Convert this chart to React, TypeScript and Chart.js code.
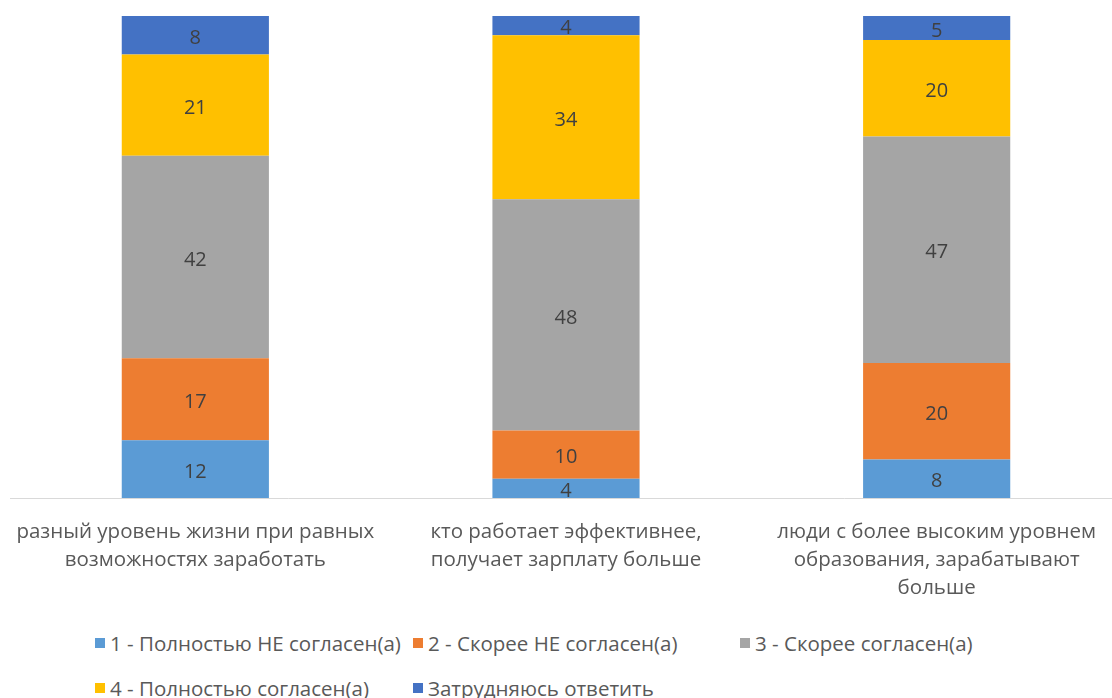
import React, { useEffect, useRef } from "react";
import { Chart, registerables } from "chart.js";

Chart.register(...registerables);

const categories: string[][] = [
  ["разный уровень жизни при равных", "возможностях заработать"],
  ["кто работает эффективнее,", "получает зарплату больше"],
  ["люди с более высоким уровнем", "образования, зарабатывают", "больше"],
];

const seriesNames = [
  "1 - Полностью НЕ согласен(а)",
  "2 - Скорее НЕ согласен(а)",
  "3 - Скорее согласен(а)",
  "4 - Полностью согласен(а)",
  "Затрудняюсь ответить",
];

const fullyDisagree = [12, 4, 8];
const ratherDisagree = [17, 10, 20];
const ratherAgree = [42, 48, 47];
const fullyAgree = [21, 34, 20];
const hardToSay = [8, 4, 5];

const seriesValues = [fullyDisagree, ratherDisagree, ratherAgree, fullyAgree, hardToSay];
const seriesColors = ["#5B9BD5", "#ED7D31", "#A5A5A5", "#FFC000", "#4472C4"];

const FONT = "'Open Sans', sans-serif";

const valueLabels = {
  id: "valueLabels",
  afterDatasetsDraw(chart: any) {
    const ctx = chart.ctx;
    ctx.save();
    ctx.font = `20px ${FONT}`;
    ctx.fillStyle = "#404040";
    ctx.textAlign = "center";
    ctx.textBaseline = "middle";
    chart.data.datasets.forEach((ds: any, di: number) => {
      const meta = chart.getDatasetMeta(di);
      meta.data.forEach((el: any, i: number) => {
        const p = el.getProps(["x", "y", "base"], true);
        ctx.fillText(String(ds.data[i]), p.x, (p.y + p.base) / 2 + 3);
      });
    });
    ctx.restore();
  },
};

export default function App() {
  const ref = useRef<HTMLCanvasElement | null>(null);

  useEffect(() => {
    if (!ref.current) return;
    const chart = new Chart(ref.current, {
      type: "bar",
      data: {
        labels: categories,
        datasets: seriesNames.map((name, i) => ({
          label: name,
          data: seriesValues[i],
          backgroundColor: seriesColors[i],
          borderWidth: 0,
          categoryPercentage: 1,
          barPercentage: 0.397,
        })),
      },
      options: {
        animation: false,
        responsive: false,
        devicePixelRatio: 1,
        layout: { padding: { left: 10, right: 10, top: 16, bottom: 10 } },
        plugins: {
          legend: { display: false },
          tooltip: { enabled: false },
        },
        scales: {
          x: {
            stacked: true,
            grid: { display: false },
            border: { display: true, color: "#D9D9D9", width: 1 },
            ticks: {
              color: "#595959",
              font: { family: FONT, size: 20.5, lineHeight: "28px" },
              padding: 12,
              maxRotation: 0,
              autoSkip: false,
            },
            afterFit: (scale: any) => {
              scale.height = 100;
            },
          },
          y: {
            stacked: true,
            display: false,
            min: 0,
            max: 100,
          },
        },
      },
      plugins: [valueLabels],
    });
    return () => chart.destroy();
  }, []);

  const columns = [95, 413, 740];
  const rows = [643, 688];

  return (
    <div
      style={{
        position: "absolute",
        left: 0,
        top: 0,
        width: 1112,
        height: 698,
        overflow: "hidden",
        background: "#fff",
      }}
    >
      <canvas ref={ref} width={1132} height={608} style={{ position: "absolute", left: 0, top: 0 }} />
      {seriesNames.map((name, i) => {
        const col = i % 3;
        const row = Math.floor(i / 3);
        return (
          <div
            key={name}
            style={{
              position: "absolute",
              left: columns[col],
              top: rows[row] - 14,
              height: 28,
              display: "flex",
              alignItems: "center",
              fontFamily: FONT,
              fontSize: 20.5,
              color: "#595959",
              whiteSpace: "nowrap",
            }}
          >
            <span
              style={{
                display: "inline-block",
                width: 10,
                height: 10,
                background: seriesColors[i],
                marginRight: 5,
              }}
            />
            {name}
          </div>
        );
      })}
    </div>
  );
}
